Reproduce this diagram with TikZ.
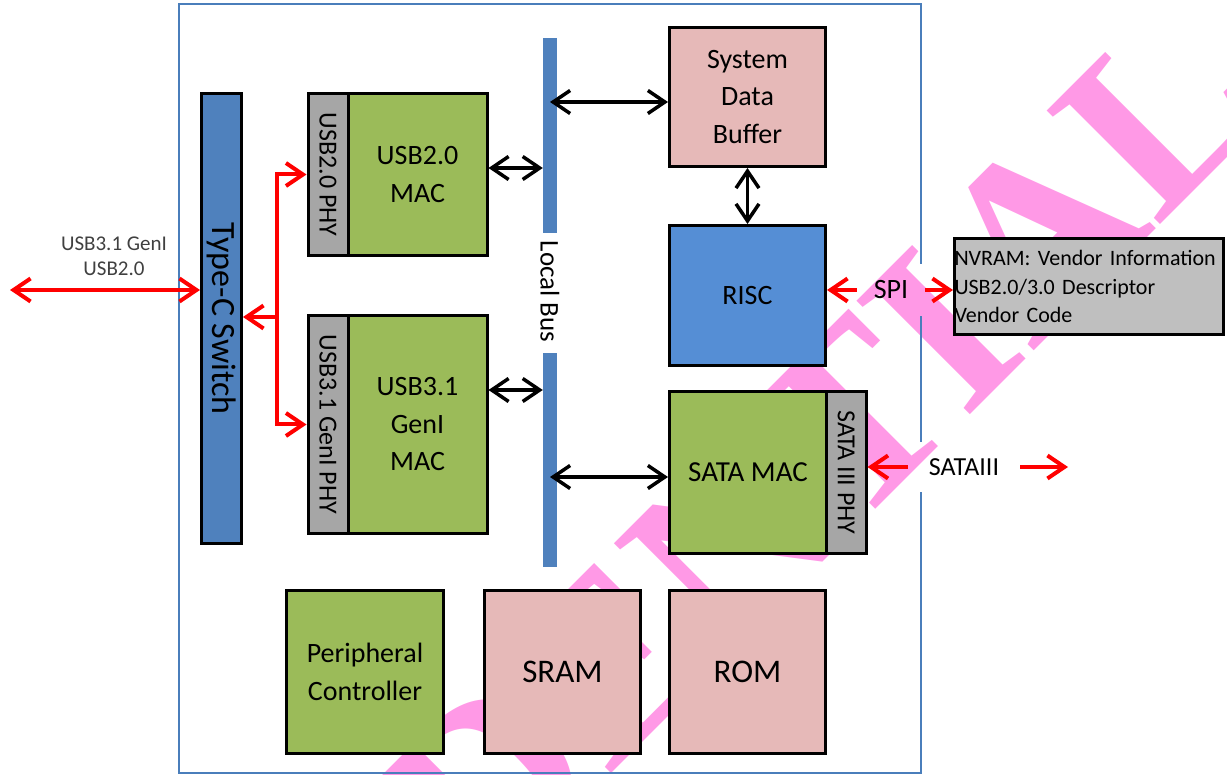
\documentclass[tikz,border=0pt]{standalone}
\usepackage{graphicx}
\usepackage{fontspec}
\setmainfont{Carlito}
\newfontfamily\wmfont{Liberation Serif}
\usetikzlibrary{positioning,arrows.meta}

\definecolor{macgreen}{HTML}{9BBB59}
\definecolor{phygray}{HTML}{A6A6A6}
\definecolor{bufpink}{HTML}{E6B9B8}
\definecolor{riscblue}{HTML}{558ED5}
\definecolor{busblue}{HTML}{4F81BD}
\definecolor{framecol}{HTML}{4A7EBB}
\definecolor{nvgray}{HTML}{BFBFBF}
\definecolor{wmpink}{RGB}{255,153,230}
\definecolor{lblgray}{HTML}{404040}

\newcommand{\vlabel}[1]{\rotatebox{-90}{#1}}

\begin{document}
\begin{tikzpicture}[x=1pt, y=-1pt,
    block/.style={rectangle, draw=black, line width=3pt, inner sep=0pt, align=center,
        font=\fontsize{28}{37.5}\selectfont},
    macbox/.style={block, fill=macgreen},
    phybox/.style={block, fill=phygray, minimum width=40pt, font=\fontsize{26}{26}\selectfont},
    busbar/.style={rectangle, fill=busblue, inner sep=0pt, minimum width=14pt},
    lbl/.style={inner sep=0pt, font=\fontsize{28}{28}\selectfont},
    blklink/.style={line width=3.5pt, <->},
    redlink/.style={line width=4pt, red},
    >={Straight Barb[length=17pt,width=23pt]}
]
    \useasboundingbox (0,0) rectangle (1227,775);

    % watermark
    \node[rotate=45, anchor=base east, inner sep=0pt, text=wmpink,
        font=\wmfont\bfseries\fontsize{245}{245}\selectfont] (wm) at (1273,112) {CONFIDENTIAL};

    % usb side
    \node[block, fill=busblue, minimum width=40pt, minimum height=450pt,
        font=\fontsize{34}{34}\selectfont] (typec) at (221.5,318.5) {\vlabel{Type-C Switch}};
    \node[macbox, minimum width=139pt, minimum height=162pt] (mac2) at (417.5,174.5) {USB2.0\\MAC};
    \node[phybox, minimum height=162pt] (phy2) [left=-3pt of mac2] {\vlabel{USB2.0 PHY}};
    \node[macbox, minimum width=139pt, minimum height=218pt] (mac3) at (417.5,424.5) {USB3.1\\GenI\\MAC};
    \node[phybox, minimum height=218pt] (phy3) [left=-3pt of mac3] {\vlabel{USB3.1 GenI PHY}};

    % local bus
    \node[busbar, minimum height=195pt] (bustop) at (550,135.5) {};
    \node[busbar, minimum height=214pt] (busbot) at (550,460) {};
    \node[lbl, font=\fontsize{27}{27}\selectfont] (buslbl) at (550,291.5) {\vlabel{Local Bus}};

    % core side
    \node[block, fill=bufpink, minimum width=156pt, minimum height=139pt] (sdb) at (747.5,97) {System\\Data\\Buffer};
    \node[block, fill=riscblue, minimum width=156pt, minimum height=140pt] (risc) at (747.5,295.5) {RISC};
    \node[macbox, minimum width=157pt, minimum height=162pt,
        font=\fontsize{29}{29}\selectfont] (satamac) at (748,472.5) {SATA MAC};
    \node[phybox, minimum width=39.5pt, minimum height=162pt] (sataphy) [right=-3pt of satamac] {\vlabel{SATA III PHY}};

    % bottom row
    \node[macbox, minimum width=157pt, minimum height=163pt] (periph) at (365,672) {Peripheral\\Controller};
    \node[block, fill=bufpink, minimum width=156pt, minimum height=163pt,
        font=\fontsize{33}{33}\selectfont] (sram) at (562.5,672) {SRAM};
    \node[block, fill=bufpink, minimum width=156pt, minimum height=163pt,
        font=\fontsize{33}{33}\selectfont] (rom) at (747.5,672) {ROM};

    % nvram
    \node[block, fill=nvgray, minimum width=269pt, minimum height=96pt, text width=269pt, align=left,
        font=\fontsize{22}{28.5}\selectfont] (nvram) at (1089,286.5)
        {NVRAM: Vendor Information\\USB2.0/3.0 Descriptor\\Vendor Code};

    % labels and ends
    \node[lbl, minimum width=68pt, minimum height=52pt] (spi) at (891,290) {SPI};
    \node[lbl, minimum width=112pt, minimum height=50pt, font=\fontsize{26}{26}\selectfont] (satlbl) at (964,467) {SATAIII};
    \node[lbl, text=lblgray, align=center, font=\fontsize{21}{25}\selectfont] (usblbl) at (114,256) {USB3.1 GenI\\USB2.0};
    \coordinate (usbport) at (10,290);
    \coordinate (sataport) at (1068,467);
    \coordinate (split) at (277,317);
    \coordinate (fnw) at (179,4);
    \coordinate (fse) at (921,773);

    % frame
    \draw[framecol, line width=2pt] (spi.north -| fse) |- (fnw) |- (fse) -- (satlbl.south -| fse);
    \draw[framecol, line width=2pt] (satlbl.north -| fse) -- (spi.south -| fse);

    % red links
    \draw[redlink, <->] (usbport) -- (usbport -| typec.west);
    \draw[redlink, ->] (split) -- (split -| typec.east);
    \draw[redlink, ->] (split) |- (phy2.west);
    \draw[redlink, ->] (split) |- (phy3.west);
    \draw[redlink, ->] (spi.west) -- (spi.west -| risc.east);
    \draw[redlink, ->] (spi.east) -- (spi.east -| nvram.west);
    \draw[redlink, ->] (satlbl.west) -- (satlbl.west -| sataphy.east);
    \draw[redlink, ->] (satlbl.east) -- (sataport);

    % bus links
    \draw[blklink] (mac2.east |- 0,168) -- (bustop.west |- 0,168);
    \draw[blklink] (mac3.east |- 0,390) -- (busbot.west |- 0,390);
    \draw[blklink] (bustop.center |- 0,102) -- (sdb.west |- 0,102);
    \draw[blklink] (busbot.center |- 0,477) -- (satamac.west |- 0,477);
    \draw[blklink] (sdb.south) -- (risc.north);
\end{tikzpicture}
\end{document}
